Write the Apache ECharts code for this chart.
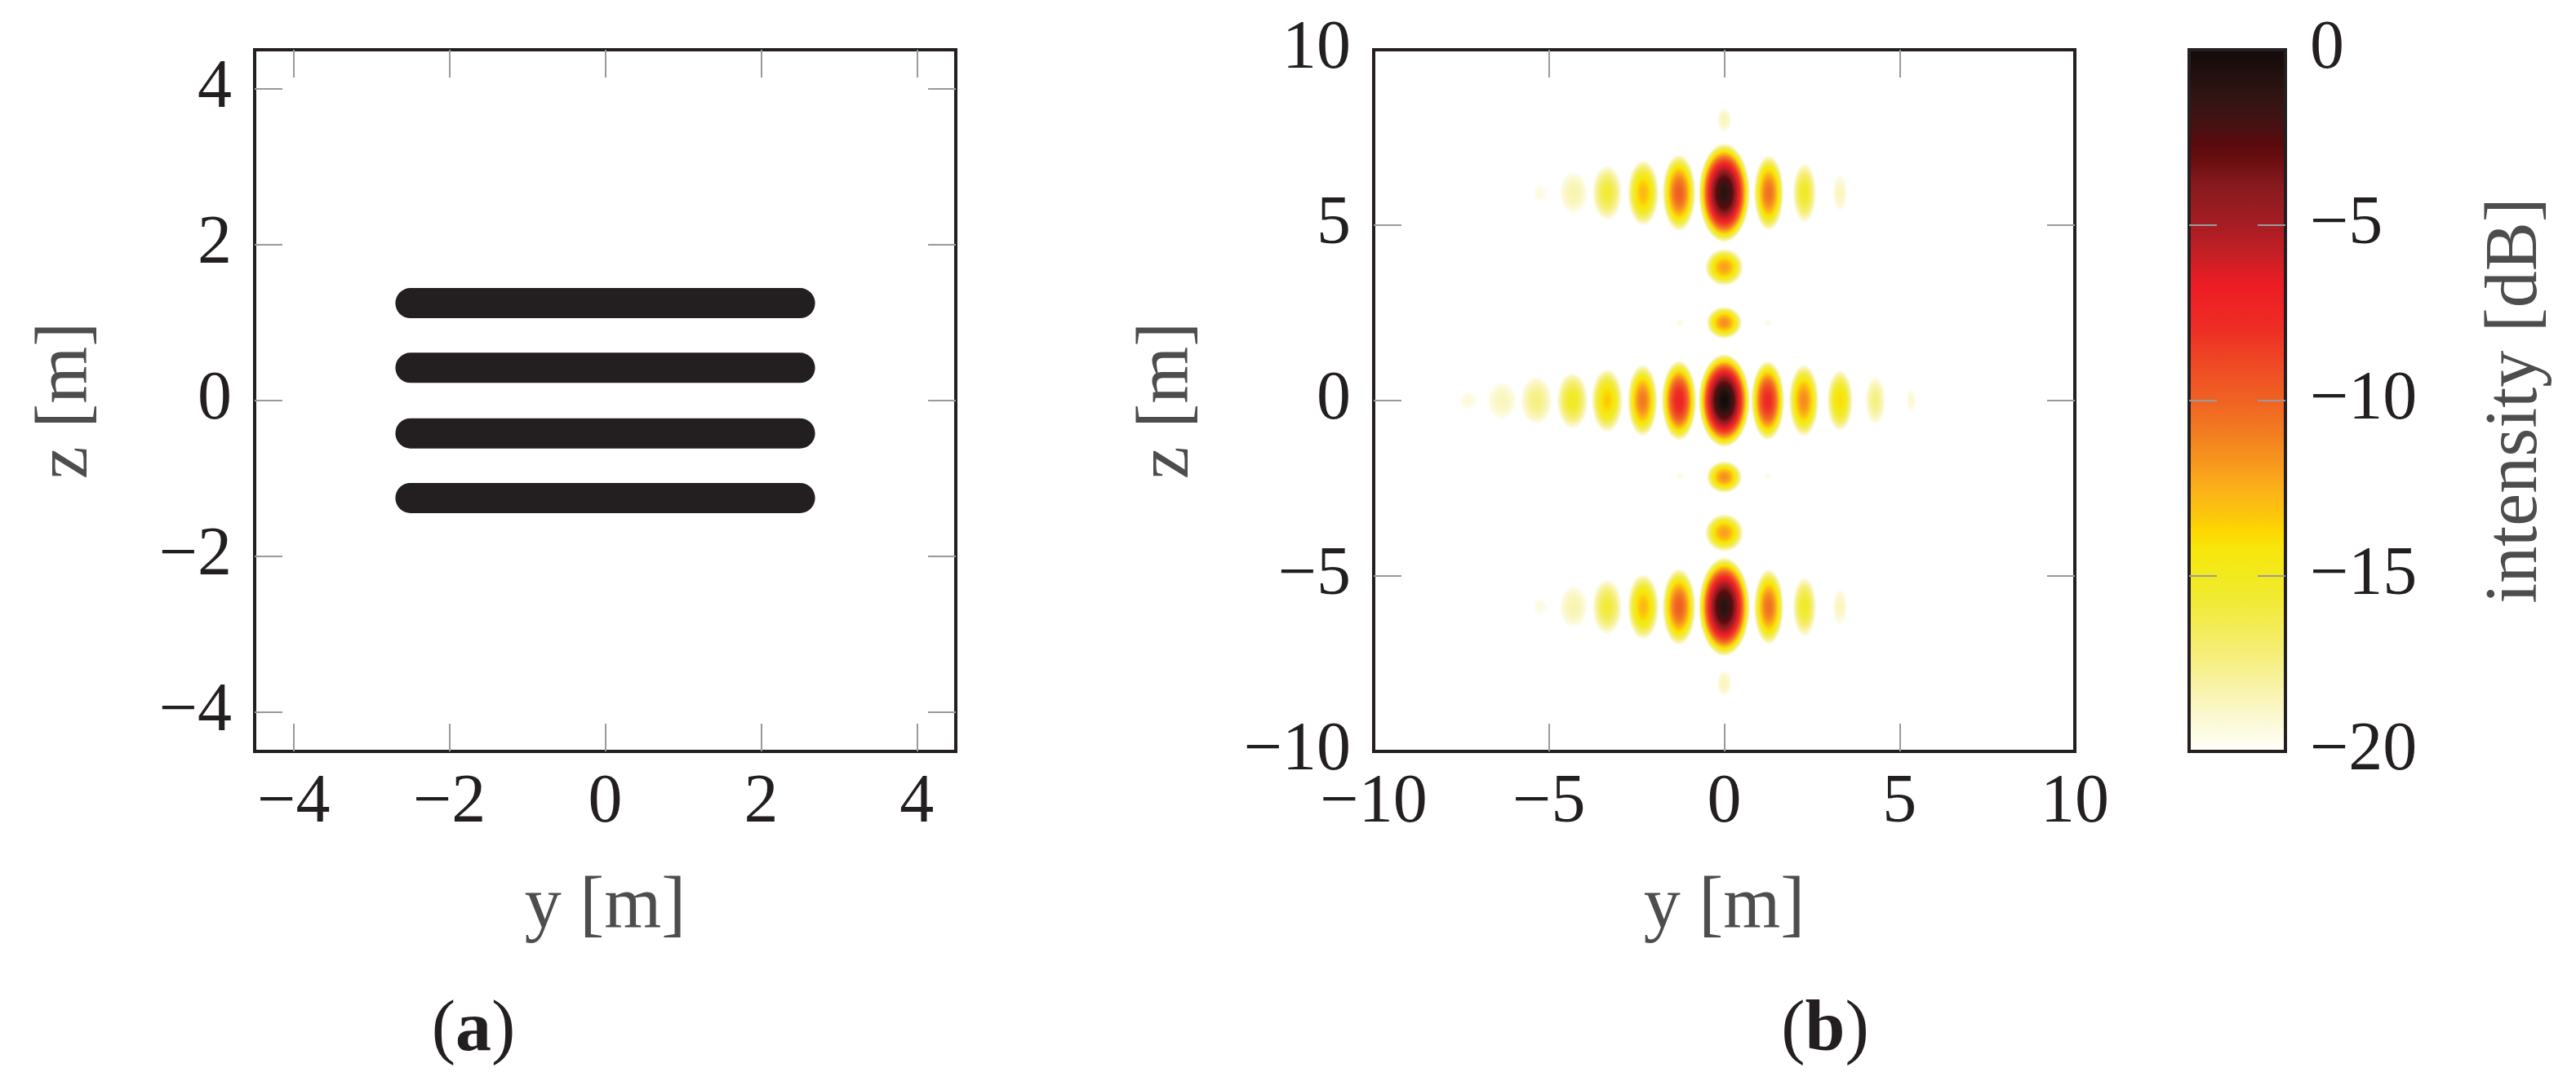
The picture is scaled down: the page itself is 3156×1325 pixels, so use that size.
<!DOCTYPE html>
<html>
<head>
<meta charset="utf-8">
<script src="https://cdn.jsdelivr.net/npm/echarts@6/dist/echarts.min.js"></script>
<style>
  html, body { margin: 0; padding: 0; background: #fff; }
  #chart { width: 3156px; height: 1325px; }
</style>
</head>
<body>
<div id="chart"></div>
<script>
var FONT = '"Liberation Serif", "DejaVu Serif", serif';
var INK = '#231f20';
var GREY = '#4d4d4f';
var TICK = '#9a9a9e';

// (a) array geometry: four horizontal rows of elements
var rowZ = [1.25, 0.42, -0.42, -1.25];
var rowStartY = [-2.5, -2.5, -2.5, -2.5];
var rowEndY = [2.5, 2.5, 2.5, 2.5];
var ticksA = [-4, -2, 0, 2, 4];

// (b) intensity lobes: centre y, centre z, peak dB, half width y, half height z
// main row (z = 0)
var mainY  = [-7.3, -6.34, -5.36, -4.33, -3.34, -2.33, -1.29, 0, 1.24, 2.27, 3.30, 4.31, 5.33];
var mainDb = [-19.3, -18.6, -17.4, -15.2, -13.3, -10.8, -7.2, 0, -7.6, -11.4, -13.9, -17.4, -19.1];
var mainRy = [0.32, 0.44, 0.46, 0.45, 0.45, 0.43, 0.50, 0.74, 0.48, 0.43, 0.37, 0.29, 0.15];
var mainRz = [0.30, 0.56, 0.70, 0.81, 0.91, 1.03, 1.15, 1.34, 1.14, 1.03, 0.88, 0.70, 0.38];
// grating lobe rows (z = +5.9 and z = -5.9)
var gratZ  = [5.92, -5.88];
var gratY  = [-5.25, -4.3, -3.34, -2.31, -1.29, 0, 1.27, 2.29, 3.30];
var gratDb = [-19.4, -18.3, -15.8, -12.8, -9.8, -1, -10.5, -15.3, -18.6];
var gratRy = [0.24, 0.42, 0.43, 0.45, 0.48, 0.74, 0.43, 0.34, 0.22];
var gratRz = [0.30, 0.62, 0.79, 0.94, 1.10, 1.42, 1.08, 0.86, 0.55];
// small lobes on the y = 0 line
var spotZ  = [8.0, 3.8, 2.22, -2.18, -3.77, -8.05];
var spotDb = [-18.6, -12, -11.5, -11.5, -12, -18.6];
var spotRy = [0.22, 0.55, 0.51, 0.51, 0.55, 0.23];
var spotRz = [0.36, 0.53, 0.46, 0.46, 0.54, 0.39];
// faint dots beside the z = +-2.2 lobes
var dotY  = [-1.27, 1.24, -1.27, 1.24];
var dotZ  = [2.22, 2.22, -2.16, -2.16];
var dotDb = [-19.4, -19.4, -19.4, -19.4];
var ticksB = [-10, -5, 0, 5, 10];
var innerTicksB = [-5, 0, 5];

// colour bar
var cmapDb = [-20, -19, -17.2, -15.6, -15, -14.2, -13.7, -13.3, -12.5, -11.8, -11, -10, -9, -7.9, -6.7, -5.9, -5, -3.9, -3.2, -2.7, -2, -1.2, 0];
var cmapColor = ['#fffffa', '#fbf8d0', '#f5ee78', '#f1ea30', '#f2ea1e', '#f8e50c', '#fed700', '#fdc80c', '#fbb019', '#f7981d', '#f37f20', '#f06223', '#ef4a24', '#ee2c24', '#ed1c24', '#c81f26', '#a61d23', '#881a1e', '#6c0f12', '#5a0a0d', '#421314', '#2c1412', '#140a0b'];
var cbTicks = [-20, -15, -10, -5, 0];
var cbInnerTicks = [-15, -10, -5];

function fmt(v) {
	return v < 0 ? '\u2212' + (-v) : String(v);
}

function hexRgb(h) {
	return [parseInt(h.substr(1, 2), 16), parseInt(h.substr(3, 2), 16), parseInt(h.substr(5, 2), 16)];
}

function dbColor(db, alpha) {
	db = Math.max(-20, Math.min(0, db));
	var i = 1;
	while (i < cmapDb.length - 1 && db > cmapDb[i]) i++;
	var t = (db - cmapDb[i - 1]) / (cmapDb[i] - cmapDb[i - 1]);
	var a = hexRgb(cmapColor[i - 1]), b = hexRgb(cmapColor[i]);
	var c = [];
	for (var k = 0; k < 3; k++) c.push(Math.round(a[k] + (b[k] - a[k]) * t));
	return 'rgba(' + c.join(',') + ',' + alpha + ')';
}

// a lobe falls off as a parabola in dB from its peak to -20 dB at its edge
function lobeFill(peak) {
	var stops = [];
	for (var k = 0; k <= 30; k++) {
		var rho = k / 30;
		var level = peak - (peak + 20) * rho * rho;
		var alpha = Math.max(0, Math.min(1, (level + 20) / 0.5));
		stops.push({offset: rho, color: dbColor(level, alpha)});
	}
	return new echarts.graphic.RadialGradient(0.5, 0.5, 0.5, stops);
}

var lobes = [];
for (var i = 0; i < mainY.length; i++) {
	lobes.push([mainY[i], 0, mainDb[i], mainRy[i], mainRz[i]]);
}
for (var r = 0; r < gratZ.length; r++) {
	for (var j = 0; j < gratY.length; j++) {
		lobes.push([gratY[j], gratZ[r], gratDb[j], gratRy[j], gratRz[j]]);
	}
}
for (var s = 0; s < spotZ.length; s++) {
	lobes.push([0, spotZ[s], spotDb[s], spotRy[s], spotRz[s]]);
}
for (var d = 0; d < dotY.length; d++) {
	lobes.push([dotY[d], dotZ[d], dotDb[d], 0.13, 0.13]);
}

var rowData = [];
for (var b = 0; b < rowZ.length; b++) {
	if (b > 0) rowData.push('-');
	rowData.push([rowStartY[b], rowZ[b]], [rowEndY[b], rowZ[b]]);
}

var nameStyle = {color: GREY, fontFamily: FONT, fontSize: 90};

function makeAxis(grid, pos, min, max, tickVals, labelVals, opts) {
	opts = opts || {};
	return {
		type: 'value', gridIndex: grid, position: pos, min: min, max: max, z: 10,
		axisLine: {show: true, onZero: false, lineStyle: {color: INK, width: 4, cap: 'square'}},
		axisTick: {show: tickVals.length > 0, inside: true, length: 34, customValues: tickVals, lineStyle: {color: TICK, width: 2}},
		axisLabel: {show: labelVals.length > 0, customValues: labelVals, margin: opts.margin || 20, formatter: fmt, color: INK, fontFamily: FONT, fontSize: 84},
		splitLine: {show: false},
		name: opts.name || '', nameLocation: 'middle', nameGap: opts.nameGap || 0, nameRotate: opts.nameRotate,
		nameTextStyle: nameStyle
	};
}

var chart = echarts.init(document.getElementById('chart'));
chart.setOption({
	animation: false,
	backgroundColor: '#fff',
	grid: [
		{left: 312, top: 61, width: 859, height: 860, outerBoundsMode: 'none'},
		{left: 1683, top: 61, width: 859, height: 860, outerBoundsMode: 'none'},
		{left: 2682, top: 61, width: 118, height: 860, outerBoundsMode: 'none'}
	],
	xAxis: [
		makeAxis(0, 'bottom', -4.5, 4.5, ticksA, ticksA, {margin: 22, name: 'y [m]', nameGap: 147}),
		makeAxis(0, 'top', -4.5, 4.5, ticksA, []),
		makeAxis(1, 'bottom', -10, 10, innerTicksB, ticksB, {margin: 22, name: 'y [m]', nameGap: 147}),
		makeAxis(1, 'top', -10, 10, innerTicksB, []),
		makeAxis(2, 'bottom', 0, 1, [], []),
		makeAxis(2, 'top', 0, 1, [], [])
	],
	yAxis: [
		makeAxis(0, 'left', -4.5, 4.5, ticksA, ticksA, {margin: 28, name: 'z [m]', nameGap: 185, nameRotate: 90}),
		makeAxis(0, 'right', -4.5, 4.5, ticksA, []),
		makeAxis(1, 'left', -10, 10, innerTicksB, ticksB, {margin: 28, name: 'z [m]', nameGap: 207, nameRotate: 90}),
		makeAxis(1, 'right', -10, 10, innerTicksB, []),
		makeAxis(2, 'left', -20, 0, cbInnerTicks, []),
		makeAxis(2, 'right', -20, 0, cbInnerTicks, cbTicks, {margin: 30, name: 'intensity [dB]', nameGap: 238, nameRotate: 90})
	],
	series: [
		{
			type: 'line', xAxisIndex: 0, yAxisIndex: 0, data: rowData,
			symbol: 'none', connectNulls: false,
			lineStyle: {color: INK, width: 37, cap: 'round'}
		},
		{
			type: 'custom', xAxisIndex: 2, yAxisIndex: 2, data: lobes,
			renderItem: function (params, api) {
				var y = api.value(0), z = api.value(1);
				var c = api.coord([y, z]);
				var e = api.coord([y + api.value(3), z + api.value(4)]);
				return {
					type: 'circle', x: c[0], y: c[1],
					scaleX: Math.abs(e[0] - c[0]), scaleY: Math.abs(c[1] - e[1]),
					shape: {cx: 0, cy: 0, r: 1},
					style: {fill: lobeFill(api.value(2))}
				};
			}
		},
		{
			type: 'custom', xAxisIndex: 4, yAxisIndex: 4, data: [[0, 0]],
			renderItem: function (params, api) {
				var p0 = api.coord([0, 0]), p1 = api.coord([1, -20]);
				var stops = [];
				for (var k = cmapDb.length - 1; k >= 0; k--) {
					stops.push({offset: -cmapDb[k] / 20, color: cmapColor[k]});
				}
				return {
					type: 'rect',
					shape: {x: p0[0], y: p0[1], width: p1[0] - p0[0], height: p1[1] - p0[1]},
					style: {fill: new echarts.graphic.LinearGradient(0, 0, 0, 1, stops)}
				};
			}
		}
	],
	graphic: [
		{type: 'text', x: 580, y: 1264, style: {text: '({b|a})', fontFamily: FONT, fontSize: 88, fill: INK, align: 'center', verticalAlign: 'middle',
			rich: {b: {fontFamily: FONT, fontSize: 88, fontWeight: 'bold', fill: INK}}}},
		{type: 'text', x: 2236, y: 1264, style: {text: '({b|b})', fontFamily: FONT, fontSize: 88, fill: INK, align: 'center', verticalAlign: 'middle',
			rich: {b: {fontFamily: FONT, fontSize: 88, fontWeight: 'bold', fill: INK}}}}
	]
});
</script>
</body>
</html>
